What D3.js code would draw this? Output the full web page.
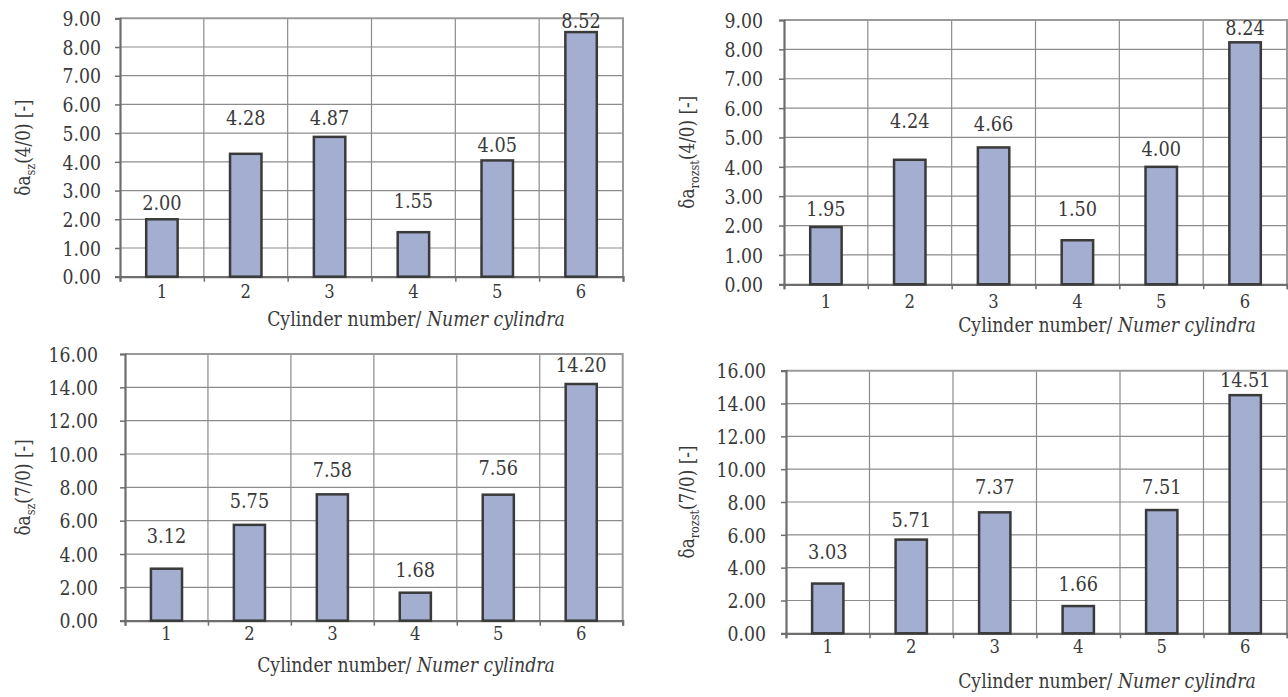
<!DOCTYPE html>
<html>
<head>
<meta charset="utf-8">
<script src="https://cdn.jsdelivr.net/npm/d3@7"></script>
<style>
  html, body { margin: 0; padding: 0; background: #fff; }
  svg { display: block; }
</style>
</head>
<body>
<svg id="chart" width="1288" height="697"></svg>
<script>
// values
var cylinders = ["1", "2", "3", "4", "5", "6"];

var daSz40    = [2.00, 4.28, 4.87, 1.55, 4.05, 8.52];
var daRozst40 = [1.95, 4.24, 4.66, 1.50, 4.00, 8.24];
var daSz70    = [3.12, 5.75, 7.58, 1.68, 7.56, 14.20];
var daRozst70 = [3.03, 5.71, 7.37, 1.66, 7.51, 14.51];

var ticks40 = [0, 1, 2, 3, 4, 5, 6, 7, 8, 9];
var ticks70 = [0, 2, 4, 6, 8, 10, 12, 14, 16];

// where the value labels sit (baseline, in data units) - they were hand-placed
var lblSz40    = [2.32, 5.29, 5.29, 2.39, 4.34, 8.66];
var lblRozst40 = [2.33, 5.32, 5.22, 2.33, 4.37, 8.49];
var lblSz70    = [4.66, 6.76, 8.62, 2.62, 8.74, 14.92];
var lblRozst70 = [4.53, 6.48, 8.49, 2.58, 8.49, 15.02];

var xTitleReg = "Cylinder number/ ";
var xTitleIt = "Numer cylindra";

// only serif face that resolves here is DejaVu Serif, which runs wide -> squeeze it a bit
var FONT = "DejaVu Serif";
var SQ = 0.865;
var INK = "#3a3a3a";

var svg = d3.select("#chart");

// put text at (tx,ty) and narrow it horizontally
function squeeze(sel, tx, ty, extra) {
	sel.attr("x", 0).attr("y", 0)
		.attr("transform", "translate(" + tx + "," + ty + ")" + (extra || "") + " scale(" + SQ + ",1)");
}

function drawPanel(p) {
	var g = svg.append("g").style("font-family", FONT);
	var yMax = p.ticks[p.ticks.length - 1];

	var x = d3.scaleBand().domain(cylinders).range([p.left, p.right]).padding(0);
	var y = d3.scaleLinear().domain([0, yMax]).range([p.bottom, p.top]);
	var barW = x.bandwidth() * 0.375;

	// horizontal grid
	g.selectAll("line.hgrid")
		.data(p.ticks.filter(function(t) {return t > 0 && t < yMax;}))
		.enter().append("line")
		.attr("x1", p.left).attr("x2", p.right)
		.attr("y1", function(d) {return y(d);})
		.attr("y2", function(d) {return y(d);})
		.attr("stroke", "#8c8c8c").attr("stroke-width", 1.2);

	// vertical grid on the category borders
	g.selectAll("line.vgrid")
		.data(cylinders.slice(1))
		.enter().append("line")
		.attr("x1", function(d) {return x(d);})
		.attr("x2", function(d) {return x(d);})
		.attr("y1", p.top).attr("y2", p.bottom)
		.attr("stroke", "#8c8c8c").attr("stroke-width", 1.2);

	// top + right frame
	g.append("path")
		.attr("d", "M" + p.left + "," + y(yMax) + "H" + p.right + "V" + p.bottom)
		.attr("fill", "none").attr("stroke", "#9a9a9a").attr("stroke-width", 2);

	// y axis
	var yax = g.append("g")
		.attr("transform", "translate(" + p.left + ",0)")
		.call(d3.axisLeft(y).tickValues(p.ticks).tickSize(5).tickFormat(d3.format(".2f")));
	yax.attr("font-family", null);
	yax.select(".domain").attr("stroke", "#6e6e6e").attr("stroke-width", 2.2);
	yax.selectAll(".tick line").attr("stroke", "#6e6e6e").attr("stroke-width", 1.5);
	yax.selectAll(".tick text")
		.call(squeeze, p.yLabelX - p.left, 0)
		.attr("dy", "0.36em")
		.attr("font-size", 20)
		.attr("fill", INK);

	// x axis: ticks on category borders, labels centred under the bars
	var edges = d3.scaleLinear().domain([0, 6]).range([p.left, p.right]);
	var xax = g.append("g")
		.attr("transform", "translate(0," + p.bottom + ")")
		.call(d3.axisBottom(edges).tickValues(d3.range(7)).tickSize(5).tickFormat(""));
	xax.select(".domain").attr("stroke", "#6e6e6e").attr("stroke-width", 2.2);
	xax.selectAll(".tick line").attr("stroke", "#6e6e6e").attr("stroke-width", 1.5);

	var xlab = g.append("g")
		.attr("transform", "translate(0," + p.bottom + ")")
		.call(d3.axisBottom(x).tickSize(0));
	xlab.attr("font-family", null);
	xlab.select(".domain").remove();
	xlab.selectAll(".tick text")
		.call(squeeze, 0, p.xLabelY - p.bottom)
		.attr("dy", 0)
		.attr("font-size", 19)
		.attr("fill", INK);

	// bars
	g.selectAll("rect.bar")
		.data(p.values)
		.enter().append("rect")
		.attr("class", "bar")
		.attr("x", function(d, i) {return x(cylinders[i]) + (x.bandwidth() - barW) / 2;})
		.attr("y", function(d) {return y(d);})
		.attr("width", barW)
		.attr("height", function(d) {return p.bottom - y(d);})
		.attr("fill", "#a3aed1")
		.attr("stroke", INK)
		.attr("stroke-width", 2.5);

	// value labels
	g.selectAll("text.val")
		.data(p.values)
		.enter().append("text")
		.attr("class", "val")
		.attr("text-anchor", "middle")
		.attr("font-size", 20.5)
		.attr("fill", INK)
		.attr("transform", function(d, i) {
			return "translate(" + (x(cylinders[i]) + x.bandwidth() / 2) + "," + y(p.labelAt[i]) + ") scale(" + SQ + ",1)";
		})
		.text(function(d) {return d.toFixed(2);});

	// y title
	var yt = g.append("text")
		.attr("text-anchor", "middle")
		.attr("fill", INK)
		.attr("font-size", 19.5)
		.call(squeeze, p.yTitleX, (p.top + p.bottom) / 2, " rotate(-90)");
	yt.append("tspan").text("\u03b4a");
	yt.append("tspan").attr("font-size", 13).attr("dy", 5).text(p.sub);
	yt.append("tspan").attr("dy", -5).text(p.yTitleRest);

	// x title
	var xt = g.append("text")
		.attr("text-anchor", "middle")
		.attr("fill", INK)
		.attr("font-size", 20)
		.call(squeeze, p.xTitleX, p.xTitleY);
	xt.append("tspan").text(xTitleReg);
	xt.append("tspan").attr("font-style", "italic").text(xTitleIt);
}

drawPanel({values: daSz40, labelAt: lblSz40, ticks: ticks40,
	left: 120, right: 623, top: 18.3, bottom: 276.7,
	yLabelX: 101, xLabelY: 298, yTitleX: 30, sub: "sz", yTitleRest: "(4/0) [-]",
	xTitleX: 416, xTitleY: 326});

drawPanel({values: daRozst40, labelAt: lblRozst40, ticks: ticks40,
	left: 784, right: 1287, top: 20, bottom: 284.3,
	yLabelX: 763, xLabelY: 308, yTitleX: 694, sub: "rozst", yTitleRest: "(4/0) [-]",
	xTitleX: 1107, xTitleY: 332});

drawPanel({values: daSz70, labelAt: lblSz70, ticks: ticks70,
	left: 125, right: 622.7, top: 354, bottom: 620.7,
	yLabelX: 98, xLabelY: 640, yTitleX: 30, sub: "sz", yTitleRest: "(7/0) [-]",
	xTitleX: 406, xTitleY: 672});

drawPanel({values: daRozst70, labelAt: lblRozst70, ticks: ticks70,
	left: 786, right: 1287, top: 370.7, bottom: 633.3,
	yLabelX: 766, xLabelY: 653, yTitleX: 694, sub: "rozst", yTitleRest: "(7/0) [-]",
	xTitleX: 1107, xTitleY: 688});
</script>
</body>
</html>
